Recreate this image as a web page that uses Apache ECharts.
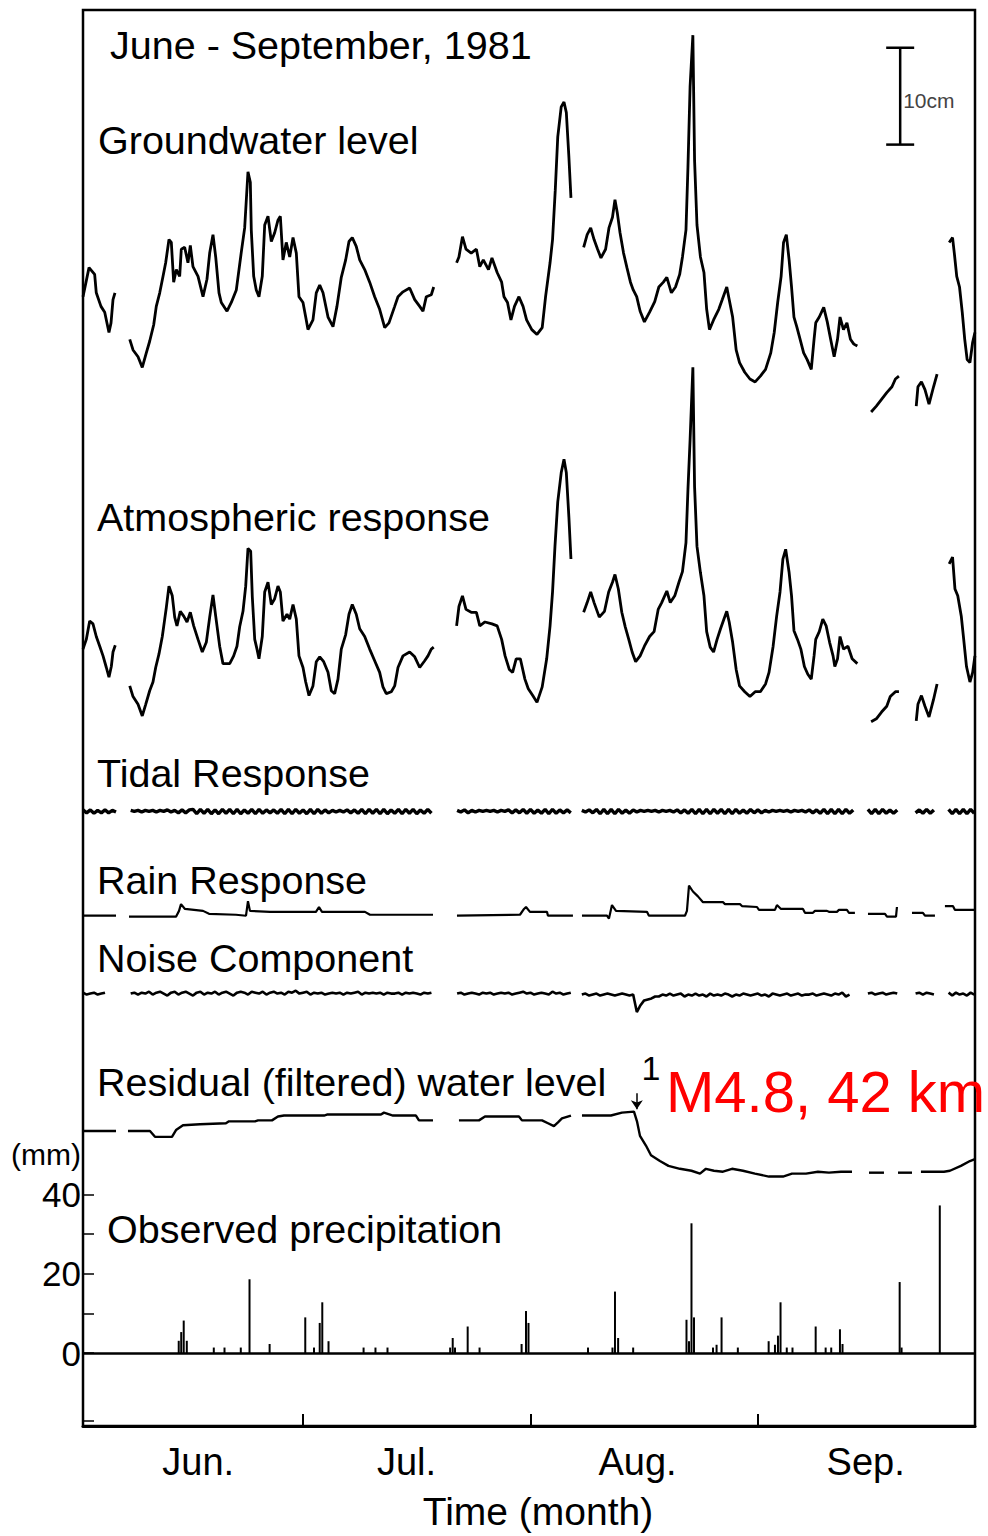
<!DOCTYPE html>
<html><head><meta charset="utf-8">
<script src="https://cdn.jsdelivr.net/npm/echarts@6.0.0/dist/echarts.min.js"></script>
<style>html,body{margin:0;padding:0;background:#fff}#chart{width:988px;height:1536px}</style>
</head><body><div id="chart"></div>
<script>
// ---------------- DATA (x = days since 1 June 1981, values in cm / mm) ----------------
const monthLabels = ['Jun.', 'Jul.', 'Aug.', 'Sep.'];
const monthLabelDays = [15.7, 44.1, 75.6, 106.7];
const monthStartDays = [30, 61, 92];
const precipTickValues = [-17, 0, 10, 20, 30, 40];
const precipLabelValues = [0, 20, 40, 50];

const groundwaterLevel = [
  [[0,0.3],[0.82,3.3],[1.59,2.6],[1.81,0.7],[2.45,-0.7],[2.96,-1.3],[3.54,-3.4],[3.82,-2.4],[4.09,0],[4.36,0.7]],
  [[6.37,-4.1],[6.82,-5.2],[7.5,-5.9],[8.08,-7],[8.63,-5.5],[9.09,-4.3],[9.64,-2.6],[9.99,-0.7],[10.46,0.7],[10.91,2.4],[11.27,3.8],[11.72,6.2],[12.04,5.9],[12.36,1.8],[12.72,3.1],[13.18,2.4],[13.4,5.2],[13.86,5.4],[14.31,3.8],[14.63,5.6],[14.99,3.4],[15.68,2.4],[16.36,0.3],[16.9,2.1],[17.27,4.8],[17.72,6.7],[18.09,4.4],[18.54,0.7],[18.85,-0.3],[19.63,-1.2],[20.22,-0.3],[20.9,1],[21.58,4.9],[22.04,7.4],[22.49,13.2],[22.81,12.1],[22.94,7.2],[23.27,2.4],[23.62,1],[23.99,0.3],[24.44,2.4],[24.77,7.7],[25.22,8.6],[25.67,6],[26.13,6.9],[26.58,8.2],[26.9,8.6],[27.26,4.1],[27.71,5.9],[28.18,4.4],[28.63,6.4],[29.08,4.8],[29.44,0.3],[29.99,-0.3],[30.36,-1.8],[30.67,-3.1],[31.35,-2.1],[31.8,0.7],[32.27,1.5],[32.72,0.7],[33.4,-1.8],[34.08,-2.8],[34.62,-0.7],[35.21,2.3],[35.81,4.1],[36.26,6],[36.71,6.4],[37.25,5.5],[37.72,4.1],[38.4,3.1],[39.08,1.8],[39.76,0.3],[40.44,-1],[41.13,-2.9],[41.71,-2.4],[42.49,-0.7],[42.94,0.3],[43.62,0.8],[44.53,1.2],[45.22,0],[45.9,-0.7],[46.35,-1.2],[46.8,0.3],[47.48,0.5],[47.81,1.3]],
  [[50.93,3.8],[51.25,4.4],[51.73,6.5],[52.21,5.2],[52.92,4.8],[53.63,5.2],[54.09,3.4],[54.57,4.1],[55.28,3.1],[55.75,4.3],[56.46,2.8],[57.07,1.8],[57.39,0.3],[57.87,-0.3],[58.34,-2.1],[58.82,-0.7],[59.43,0.3],[59.99,-0.7],[60.47,-2.1],[61.18,-3.1],[61.89,-3.6],[62.6,-2.9],[63.06,0.3],[63.67,3.8],[64.01,6.2],[64.38,11.3],[64.72,16.8],[65.19,19.9],[65.57,20.4],[65.89,19.3],[66.24,14.7],[66.52,10.5]],
  [[68.25,5.4],[68.73,6.7],[69.21,7.4],[69.67,6.2],[70.15,5.2],[70.61,4.3],[71.24,5.2],[71.7,7.4],[72.18,8.5],[72.52,10.3],[72.83,9],[73.21,6.9],[73.69,4.8],[74.15,3.3],[74.63,1.8],[75.01,1],[75.48,0.3],[75.95,-1.2],[76.53,-2.3],[77.24,-1.3],[77.94,-0.2],[78.5,1.3],[79.12,1.8],[79.59,2.3],[80.21,0.7],[80.77,1.3],[81.34,2.6],[81.72,4.4],[82.2,7.2],[82.47,13.7],[82.76,22],[83.14,27.3],[83.37,14.4],[83.7,7.7],[84.17,4.4],[84.65,2.8],[85.02,-1],[85.4,-3.1],[85.96,-2.1],[86.67,-1],[87.15,0],[87.76,1.3],[88.09,0],[88.56,-1.8],[89.04,-5.2],[89.5,-6.5],[90.21,-7.5],[90.92,-8.2],[91.63,-8.5],[92.34,-7.9],[93.05,-7.2],[93.76,-5.5],[94.23,-3.4],[94.7,-0.3],[95.17,2.4],[95.5,5.9],[95.88,6.7],[96.26,4.1],[96.59,1.3],[96.92,-1.8],[97.3,-2.8],[97.76,-4.1],[98.24,-5.5],[98.72,-6.2],[99.28,-7.2],[99.66,-4.1],[99.89,-2.4],[100.37,-1.8],[100.98,-0.8],[101.46,-2.3],[101.92,-4.1],[102.4,-5.9],[102.86,-4.1],[103.2,-1.8],[103.67,-3.1],[104.14,-2.4],[104.62,-4.1],[105.08,-4.6],[105.56,-4.8]],
  [[107.44,-11.6],[108.15,-11],[108.86,-10.3],[109.57,-9.6],[110.28,-9],[110.75,-8.2],[111.23,-7.9]],
  [[113.59,-11],[113.82,-9],[114.3,-8.5],[114.78,-9.3],[115.33,-10.8],[115.95,-9],[116.43,-7.7]],
  [[118.08,5.9],[118.54,6.4],[118.78,4.8],[119.11,2.4],[119.49,1.3],[119.86,-1.3],[120.2,-4.1],[120.53,-6.2],[120.91,-6.5],[121.28,-4.4],[121.59,-3.4]]
];

const atmosphericResponse = [
  [[0,0],[0.45,1],[0.91,2.9],[1.36,2.6],[1.81,1.3],[2.28,0.3],[2.73,-0.7],[3.18,-1.9],[3.54,-2.9],[3.86,-1.8],[4.09,-0.3],[4.4,0.4]],
  [[6.37,-3.8],[6.82,-4.9],[7.5,-5.7],[8.08,-6.9],[8.55,-5.7],[9.09,-4.3],[9.54,-3.4],[9.91,-1.9],[10.36,-0.5],[10.81,1.3],[11.14,3.1],[11.36,4.3],[11.72,6.5],[12.17,5.5],[12.5,3.3],[12.81,2.4],[13.26,3.9],[13.73,3.4],[14.18,2.8],[14.63,3.8],[15.09,2.4],[15.68,1],[16.26,-0.3],[16.81,0.7],[17.27,3.3],[17.72,5.6],[18.09,3.4],[18.63,0.3],[19.08,-1.5],[20,-1.5],[20.54,-0.7],[20.99,0.3],[21.36,2.3],[21.81,3.9],[22.18,6.5],[22.49,10.4],[22.86,10.1],[23.08,5.4],[23.41,1],[23.72,0],[23.99,-1],[24.44,1.3],[24.77,5.9],[25.22,6.9],[25.67,4.6],[26.13,5.2],[26.58,6.5],[26.9,5.9],[27.26,2.9],[27.81,3.6],[28.18,3.1],[28.63,4.6],[29.08,3.1],[29.44,-0.7],[29.99,-1.9],[30.36,-3.4],[30.81,-4.8],[31.35,-3.8],[31.8,-1.3],[32.27,-0.8],[32.81,-1.3],[33.4,-2.4],[33.85,-4.3],[34.31,-4.6],[34.76,-3.1],[35.21,0],[35.81,1.5],[36.26,3.6],[36.71,4.6],[37.25,3.6],[37.72,2.1],[38.4,1.3],[39.08,0],[39.76,-1.2],[40.44,-2.4],[40.89,-3.9],[41.34,-4.6],[42.03,-4.4],[42.49,-3.8],[42.94,-1.9],[43.62,-0.7],[44.53,-0.3],[45.22,-0.8],[45.9,-1.9],[46.58,-1.2],[47.03,-0.7],[47.48,0],[47.81,0.2]],
  [[50.93,2.4],[51.25,4.4],[51.73,5.5],[52.21,4.1],[52.92,3.8],[53.63,3.8],[54.09,2.4],[54.8,2.8],[55.75,2.6],[56.46,2.4],[57.07,1],[57.54,-0.7],[58.11,-2.1],[58.57,-2.4],[59.05,-1],[59.62,-1],[60.24,-3.1],[60.7,-4.1],[61.31,-4.8],[61.89,-5.5],[62.6,-3.9],[63.21,-1],[63.67,2.4],[64.01,5.9],[64.34,10.6],[64.72,15.2],[65.19,18.2],[65.57,19.6],[65.89,18.2],[66.24,13.6],[66.52,9.3]],
  [[68.25,3.8],[68.73,4.8],[69.21,5.9],[69.67,4.8],[70.38,3.3],[71.09,3.9],[71.66,5.9],[72.18,6.9],[72.52,7.7],[72.98,6.2],[73.45,3.8],[73.92,2.3],[74.4,1],[74.86,-0.3],[75.34,-1.3],[75.95,-0.7],[76.53,0.3],[77.24,1.3],[77.85,1.8],[78.41,4.1],[78.89,4.8],[79.59,6],[80.06,4.8],[80.67,5.5],[81.24,6.9],[81.72,8],[82.2,11],[82.47,16.5],[82.76,21.6],[83.14,29.1],[83.37,16.8],[83.7,10.6],[84.17,7.9],[84.65,5.5],[85.02,1.8],[85.5,0.2],[85.96,-0.3],[86.44,1],[86.91,2.1],[87.38,3.1],[87.76,3.9],[88.09,2.8],[88.56,0.7],[89.04,-2.1],[89.5,-3.8],[90.21,-4.4],[90.92,-4.9],[91.63,-4.4],[92.34,-4.4],[93.05,-3.6],[93.52,-2.4],[94.08,0.3],[94.56,3.4],[95.02,5.9],[95.41,9.3],[95.79,10.3],[96.26,7.9],[96.59,5.5],[96.92,1.9],[97.4,1],[97.86,0],[98.34,-1.8],[98.81,-2.6],[99.28,-3.1],[99.66,-0.7],[99.89,1],[100.37,1.8],[100.85,3.1],[101.31,2.4],[101.78,0.7],[102.25,-0.7],[102.49,-1.8],[102.86,-1],[103.2,1.3],[103.67,0],[104.28,0.3],[104.85,-1],[105.56,-1.5]],
  [[107.44,-7.5],[108.15,-7.2],[108.86,-6.5],[109.57,-5.9],[110.05,-4.9],[110.75,-4.4],[111.23,-4.4]],
  [[113.59,-7.4],[113.82,-5.7],[114.3,-4.8],[114.78,-5.9],[115.33,-7],[115.95,-5.2],[116.43,-3.6]],
  [[118.08,8.8],[118.54,9.5],[118.87,6.2],[119.25,5.5],[119.73,3.4],[120.06,1],[120.44,-1.8],[120.91,-3.4],[121.28,-2.4],[121.59,-0.7]]
];

// half-day samples (day = index * 0.5), null = no record
const tidalResponse = [
  0.1,-0.2,0.1,-0.25,0.05,-0.2,0.1,-0.2,0.05,-0.12,
  null,null,null,
  0.05,-0.05,0.05,-0.12,0.05,-0.05,0.05,-0.12,0.05,-0.05,0.1,-0.12,0.05,-0.2,0.1,-0.2,0.1,
  0.15,-0.3,0.15,-0.25,0.15,-0.3,0.1,-0.3,0.15,-0.25,
  0.15,-0.3,0.15,-0.3,0.1,-0.25,0.15,-0.3,0.15,-0.25,
  0.1,-0.2,0.1,-0.25,0.15,-0.3,0.15,-0.3,0.15,-0.25,
  0.1,-0.3,0.15,-0.3,0.15,-0.25,0.1,-0.2,0.05,-0.12,
  0.05,-0.12,0.1,-0.2,0.1,-0.25,0.15,-0.3,0.15,-0.25,
  0.15,-0.3,0.15,-0.3,0.1,-0.25,0.15,-0.3,0.15,-0.25,
  0.15,-0.3,0.1,-0.25,0.15,-0.25,
  null,null,null,null,null,null,
  0.05,-0.12,0.1,-0.2,0.05,-0.12,0.05,-0.05,0.05,-0.05,
  0.05,-0.12,0.05,-0.05,0.1,-0.2,0.1,-0.2,0.15,-0.25,
  0.15,-0.25,0.1,-0.25,0.15,-0.3,0.15,-0.25,0.1,-0.2,
  0.1,-0.2,
  null,null,
  0.05,-0.12,0.1,-0.2,0.15,-0.3,0.15,-0.3,0.15,-0.3,0.15,-0.25,0.1,-0.25,0.1,
  -0.12,0.05,-0.05,0.05,-0.05,0.05,-0.12,0.05,-0.05,0.05,-0.12,0.1,-0.2,0.1,
  -0.25,0.15,-0.3,0.15,-0.3,0.15,-0.3,0.15,-0.25,0.15,-0.3,0.15,-0.3,0.15,-0.25,0.1,-0.25,0.15,-0.2,0.1,-0.2,
  0.05,-0.12,0.05,-0.05,0.05,-0.05,0.05,-0.12,0.05,-0.05,0.05,-0.12,0.1,-0.2,0.1,
  -0.25,0.15,-0.3,0.15,-0.3,0.15,-0.3,0.15,-0.25,0.1,
  null,null,null,
  0.15,-0.3,0.15,-0.3,0.15,-0.25,0.1,-0.25,0.1,
  null,null,null,null,
  -0.2,0.1,-0.25,0.15,-0.25,0.1,
  null,null,null,
  0.15,-0.3,0.15,-0.3,0.15,-0.3,0.15,-0.25
];

const rainResponse = [
  [[0,0],[4.5,0]],
  [[6.27,-0.1],[12.68,-0.1],[13.09,0.5],[13.36,1.2],[13.9,0.7],[16.36,0.5],[17.18,0.2],[20.86,0.1],[22.22,0],[22.49,1.5],[22.76,0.5],[25.49,0.4],[31.76,0.4],[32.17,0.9],[32.58,0.4],[38.44,0.4],[39.12,0.1],[47.71,0.1]],
  [[50.98,0],[59.57,0.1],[60.12,0.7],[60.39,0.9],[60.93,0.4],[63.25,0.4],[63.39,0],[66.79,0]],
  [[68.02,0],[71.43,0],[71.7,-0.3],[72.11,1.1],[72.66,0.5],[76.88,0.4],[77.15,0],[82.06,0],[82.33,0.5],[82.61,3.1],[83.15,2.5],[83.83,2.0],[84.52,1.4],[87.24,1.4],[87.52,1.2],[89.56,1.2],[89.83,1.0],[91.88,0.9],[92.15,0.6],[94.33,0.6],[94.6,1.1],[95.15,0.7],[98.15,0.7],[98.42,0.3],[99.51,0.3],[99.78,0.5],[101.42,0.5],[101.69,0.4],[102.78,0.4],[103.05,0.6],[104.14,0.6],[104.42,0.3],[105.23,0.3]],
  [[107.01,0.2],[109.33,0.2],[109.6,-0.1],[110.83,-0.1],[110.96,0.9]],
  [[113.01,0.3],[114.5,0.3],[114.78,0],[116.14,0]],
  [[117.5,1.0],[118.59,1.0],[118.87,0.6],[121.59,0.6]]
];

// half-day samples (day = index * 0.5)
const noiseComponent = [
  0.1,-0.1,0.0,0.1,-0.1,0.0,0.1,
  null,null,null,null,null,null,
  0.0,0.1,-0.1,0.1,0.0,0.2,-0.1,0.1,0.2,0.0,-0.2,0.1,0.2,-0.1,0.1,0.2,0.0,
  -0.2,0.1,0.2,-0.1,0.1,0.0,0.2,-0.1,0.1,0.2,
  0.0,-0.2,0.1,0.2,0.1,-0.1,0.2,0.1,0.0,0.2,
  -0.1,0.1,0.2,0.0,0.1,-0.1,0.2,0.1,0.3,0.0,
  0.1,0.2,-0.1,0.1,0.0,0.1,-0.1,0.0,0.1,0.0,
  0.1,-0.1,0.1,0.0,0.1,0.2,-0.1,0.1,0.0,0.1,
  0.0,0.1,-0.1,0.1,0.0,0.0,0.1,-0.1,0.1,0.0,
  0.1,0.0,-0.1,0.1,0.0,0.1,
  null,null,null,null,null,null,
  0.0,0.1,-0.1,0.0,0.1,0.0,-0.1,0.1,0.0,0.1,
  -0.1,0.0,0.1,0.0,0.1,-0.1,0.0,0.1,0.2,0.0,
  0.1,-0.1,0.0,0.1,0.0,-0.1,0.2,0.0,0.1,-0.1,
  0.0,0.1,
  null,null,
  -0.1,0.0,-0.2,-0.1,0.0,-0.2,-0.1,0.0,-0.1,-0.2,-0.1,0.0,-0.1,-0.2,-0.1,
  -1.9,-1.2,-0.7,-0.6,-0.5,-0.3,-0.3,-0.1,-0.2,0.0,
  -0.2,-0.1,0.0,-0.3,-0.1,-0.2,0.0,-0.2,-0.1,-0.3,
  0.0,-0.2,-0.1,-0.2,0.0,-0.1,-0.3,-0.1,-0.2,0.0,
  -0.1,-0.2,-0.1,0.0,-0.2,-0.1,-0.3,0.0,-0.1,-0.2,
  -0.1,0.0,-0.2,-0.1,0.0,-0.2,-0.1,-0.1,0.0,-0.2,
  -0.1,0.0,-0.1,-0.2,0.0,-0.1,0.1,-0.3,-0.1,null,
  null,null,null,
  0.0,0.1,-0.1,0.0,0.1,-0.1,0.0,0.1,0.0,
  null,null,null,null,
  0.0,0.1,-0.1,0.1,0.0,-0.1,
  null,null,null,
  0.1,-0.2,0.1,-0.1,0.0,-0.2,0.1,-0.1
];

const residualWaterLevel = [
  [[0,-1.3],[4.5,-1.3]],
  [[6.13,-1.3],[9.13,-1.3],[9.81,-1.9],[12.13,-1.9],[12.68,-1.2],[13.63,-0.7],[15.95,-0.6],[19.49,-0.5],[19.9,-0.3],[23.45,-0.3],[23.86,-0.2],[25.76,-0.2],[26.58,0.2],[27.4,0.3],[32.85,0.3],[33.26,0.4],[40.62,0.4],[41.03,0.6],[41.85,0.4],[42.26,0.3],[45.39,0.3],[45.8,-0.2],[47.71,-0.2]],
  [[51.25,-0.2],[53.98,-0.2],[54.8,0.2],[59.43,0.2],[59.84,-0.2],[62.57,-0.2],[63.39,-0.5],[64.2,-0.8],[64.75,-0.4],[65.29,0],[66.52,0.3]],
  [[68.02,0.3],[71.97,0.3],[73.47,0.6],[75.11,0.7],[75.52,-0.3],[75.93,-1.8],[76.74,-2.8],[77.43,-3.8],[78.65,-4.4],[79.81,-4.9],[81.38,-5.2],[82.95,-5.4],[84.11,-5.7],[84.92,-5.2],[86.01,-5.4],[87.24,-5.5],[88.47,-5.2],[89.97,-5.4],[91.6,-5.7],[93.51,-6.0],[95.42,-6.0],[96.65,-5.7],[98.56,-5.7],[100.19,-5.5],[101.69,-5.6],[103.33,-5.5],[104.83,-5.5]],
  [[107.15,-5.6],[109.19,-5.6]],
  [[111.1,-5.6],[113.01,-5.6]],
  [[114.23,-5.5],[117.37,-5.5],[118.18,-5.4],[119.68,-4.9],[120.91,-4.4],[121.59,-4.2]]
];

const precipDays = [13.05,13.39,13.73,14.15,17.83,19.29,21.51,22.70,25.44,30.30,31.49,32.27,32.62,33.47,38.25,39.87,41.51,50.05,50.40,50.71,52.44,54.06,59.79,60.39,60.73,68.84,72.18,72.52,72.95,75.00,82.27,82.61,82.95,83.29,85.88,86.37,87.05,89.27,93.47,94.33,94.74,95.09,95.94,96.72,99.88,101.24,102.00,103.19,103.54,111.33,111.59,116.80];
const precipMm   = [3.1,5.3,8.2,3.1,1.4,1.4,1.4,18.6,2.3,9.0,1.4,7.6,12.8,3.0,1.4,1.4,1.4,1.4,3.8,1.4,6.7,1.4,2.3,10.6,7.6,1.4,1.4,15.5,3.8,1.4,8.4,3.0,32.7,9.0,1.4,2.1,9.0,1.4,3.0,2.1,4.4,12.8,1.4,1.4,6.7,1.4,1.4,6.0,2.3,17.9,1.4,37.2];

const earthquake = { day: 75.5, number: '1', label: 'M4.8, 42 km' };
const scaleBar = { day: 111.4, topCm: 26, lengthCm: 10, label: '10cm' };

const panelLabels = ['June - September, 1981', 'Groundwater level', 'Atmospheric response', 'Tidal Response', 'Rain Response', 'Noise Component', 'Residual (filtered) water level', 'Observed precipitation'];

// ---------------- LAYOUT ----------------
const FONT = '"Liberation Sans", Arial, Helvetica, sans-serif';
const FRAME_TOP = 10, FRAME_BOTTOM = 1428, FRAME_LEFT = 83, FRAME_W = 892;
const PX_PER_CM = 9.7;
const PRECIP_ZERO_Y = 1355, PX_PER_MM = 3.975;

function bandAxis(refY) {
  return { type: 'value', show: false, min: -(FRAME_BOTTOM - refY) / PX_PER_CM, max: (refY - FRAME_TOP) / PX_PER_CM, splitLine: { show: false } };
}
function halfDaySegments(vals) {
  const segs = []; let cur = null;
  vals.forEach((v, i) => {
    if (v === null) { cur = null; return; }
    if (!cur) { cur = []; segs.push(cur); }
    cur.push([i * 0.5, v]);
  });
  return segs;
}
function lineSeries(segs, axisIdx, width) {
  return segs.map(seg => ({
    type: 'line', xAxisIndex: 0, yAxisIndex: axisIdx, data: seg,
    symbol: 'none', showSymbol: false, animation: false, silent: true,
    lineStyle: { color: '#000', width: width }
  }));
}

const series = [];
series.push(...lineSeries(groundwaterLevel, 1, 2.8));
series.push(...lineSeries(atmosphericResponse, 2, 2.8));
series.push(...lineSeries(halfDaySegments(tidalResponse), 3, 3.4));
series.push(...lineSeries(rainResponse, 4, 2.2));
series.push(...lineSeries(halfDaySegments(noiseComponent), 5, 2.6));
const resid = lineSeries(residualWaterLevel, 6, 2.4);
resid[3].markLine = {
  silent: true, animation: false, symbol: ['none', 'arrow'], symbolSize: 9,
  lineStyle: { color: '#000', width: 1.5, type: 'solid' }, label: { show: false },
  data: [[{ coord: [earthquake.day, 2.6] }, { coord: [earthquake.day, 0.95] }]]
};
series.push(...resid);

series.push({
  type: 'bar', xAxisIndex: 0, yAxisIndex: 0, barWidth: 2, animation: false, silent: true,
  itemStyle: { color: '#000' },
  data: precipDays.map((d, i) => [d, precipMm[i]]),
  markLine: {
    silent: true, animation: false, symbol: ['none', 'none'], label: { show: false },
    lineStyle: { color: '#000', width: 2.5, type: 'solid' }, data: [{ yAxis: 0 }]
  }
});

series.push({
  type: 'custom', xAxisIndex: 0, yAxisIndex: 1, animation: false, silent: true,
  data: [[scaleBar.day, scaleBar.topCm, scaleBar.lengthCm]],
  renderItem: function (params, api) {
    const p1 = api.coord([api.value(0), api.value(1)]);
    const p2 = api.coord([api.value(0), api.value(1) - api.value(2)]);
    const cap = 14, st = { stroke: '#000', lineWidth: 2.5 };
    return { type: 'group', children: [
      { type: 'line', shape: { x1: p1[0], y1: p1[1], x2: p2[0], y2: p2[1] }, style: st },
      { type: 'line', shape: { x1: p1[0] - cap, y1: p1[1], x2: p1[0] + cap, y2: p1[1] }, style: st },
      { type: 'line', shape: { x1: p2[0] - cap, y1: p2[1], x2: p2[0] + cap, y2: p2[1] }, style: st },
      { type: 'text', x: p1[0] + 3, y: (p1[1] + p2[1]) / 2 + 4, style: { text: scaleBar.label, font: '21px ' + FONT, fill: '#444', textVerticalAlign: 'middle', verticalAlign: 'middle' } }
    ]};
  }
});

const labelPos = [[110, 45], [98, 140], [97, 517], [97, 773], [97, 880], [97, 958], [97, 1082], [107, 1229]];
const graphic = panelLabels.map((t, i) => ({
  type: 'text', x: labelPos[i][0], y: labelPos[i][1], z: 100, silent: true,
  style: { text: t, font: '39.5px ' + FONT, fill: '#000', textVerticalAlign: 'middle', verticalAlign: 'middle', textAlign: 'left', align: 'left' }
}));
graphic.push({ type: 'text', x: 651, y: 1068, z: 100, silent: true,
  style: { text: earthquake.number, font: '34px ' + FONT, fill: '#000', textAlign: 'center', align: 'center', textVerticalAlign: 'middle', verticalAlign: 'middle' } });
graphic.push({ type: 'text', x: 666, y: 1091, z: 100, silent: true,
  style: { text: earthquake.label, font: '58px ' + FONT, fill: '#ff0000', textAlign: 'left', align: 'left', textVerticalAlign: 'middle', verticalAlign: 'middle' } });

const option = {
  backgroundColor: '#fff',
  animation: false,
  grid: { left: FRAME_LEFT, top: FRAME_TOP, width: FRAME_W, height: FRAME_BOTTOM - FRAME_TOP, show: true, borderColor: '#000', borderWidth: 2.5, backgroundColor: 'transparent' },
  xAxis: [{
    type: 'value', min: 0, max: 121.6, position: 'bottom',
    axisLine: { show: true, onZero: false, lineStyle: { color: '#000', width: 3 } },
    axisTick: { show: true, inside: true, length: 12, customValues: monthStartDays, lineStyle: { color: '#000', width: 2 } },
    axisLabel: { customValues: monthLabelDays, formatter: v => monthLabels[monthLabelDays.indexOf(v)] || '', fontSize: 38, fontFamily: FONT, color: '#000', margin: 17 },
    splitLine: { show: false },
    name: 'Time (month)', nameLocation: 'middle', nameGap: 66,
    nameTextStyle: { fontSize: 39, fontFamily: FONT, color: '#000', padding: [0, 0, 0, 18] }
  }],
  yAxis: [
    {
      type: 'value', position: 'left',
      min: -(FRAME_BOTTOM - PRECIP_ZERO_Y) / PX_PER_MM, max: (PRECIP_ZERO_Y - FRAME_TOP) / PX_PER_MM,
      axisLine: { show: true, onZero: false, lineStyle: { color: '#000', width: 2 } },
      axisTick: { show: true, inside: true, length: 11, customValues: precipTickValues, lineStyle: { color: '#000', width: 1.5 } },
      axisLabel: { customValues: precipLabelValues, margin: 2, color: '#000', fontSize: 35, fontFamily: FONT,
        formatter: v => v === 50 ? '{u|(mm)}' : String(v),
        rich: { u: { fontSize: 30, fontFamily: FONT, color: '#000' } } },
      splitLine: { show: false }
    },
    bandAxis(300), bandAxis(650), bandAxis(812), bandAxis(917), bandAxis(995), bandAxis(1120)
  ],
  series: series,
  graphic: graphic
};

const chart = echarts.init(document.getElementById('chart'), null, { renderer: 'svg', width: 988, height: 1536 });
chart.setOption(option);
</script></body></html>
